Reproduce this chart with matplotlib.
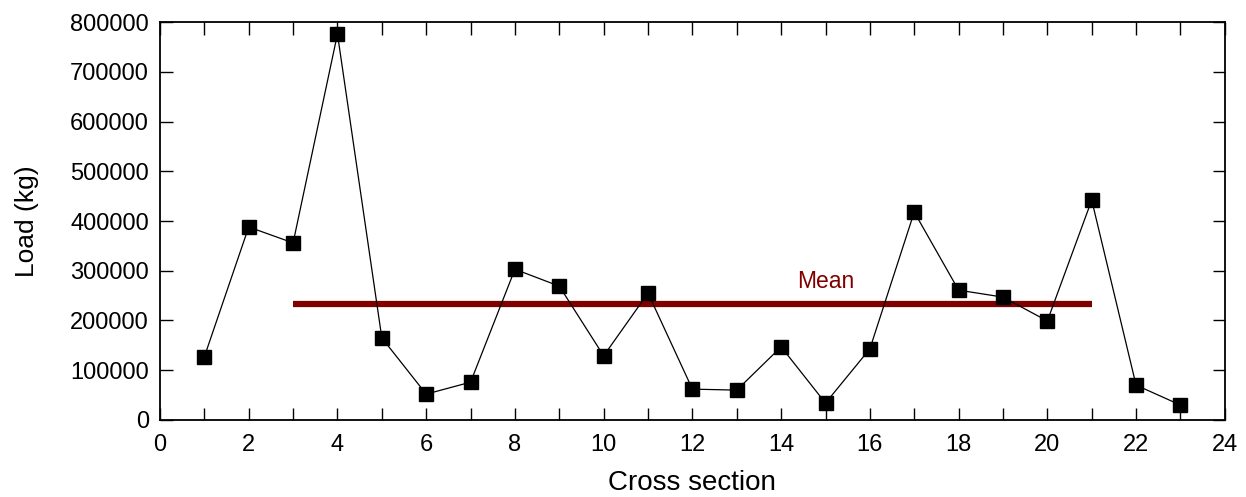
import matplotlib
matplotlib.use("Agg")
import matplotlib.pyplot as plt
from matplotlib.ticker import MultipleLocator

plt.rcParams["font.family"] = ["Liberation Sans", "DejaVu Sans"]

# data
cross_section = list(range(1, 24))
load_kg = [127000, 388000, 356000, 776000, 165000, 52000, 76000, 303000,
           269000, 129000, 255000, 62000, 60000, 147000, 34000, 143000,
           418000, 261000, 247000, 199000, 442000, 70000, 30000]

mean_x = [3, 21]
mean_value = 233000
mean_label = "Mean"
mean_label_pos = (15, 279000)

fig = plt.figure(figsize=(12.46, 4.97), dpi=100)
ax = fig.add_axes([0.1284, 0.155, 0.8546, 0.8006])

ax.plot(cross_section, load_kg, "k-", linewidth=0.9,
        marker="s", markersize=10, markerfacecolor="black", zorder=3)
ax.plot(mean_x, [mean_value, mean_value], color="#800000",
        linewidth=4.5, solid_capstyle="butt", zorder=2)
ax.text(mean_label_pos[0], mean_label_pos[1], mean_label, color="#800000",
        fontsize=16.5, ha="center", va="center")

ax.set_xlim(0, 24)
ax.set_ylim(0, 800000)
ax.xaxis.set_major_locator(MultipleLocator(2))
ax.xaxis.set_minor_locator(MultipleLocator(1))
ax.yaxis.set_major_locator(MultipleLocator(100000))

ax.tick_params(which="both", direction="in", top=True, right=True,
               length=9, width=1, labelsize=17)
ax.tick_params(axis="x", pad=10)
ax.tick_params(axis="y", pad=8)
for s in ax.spines.values():
    s.set_linewidth(1.3)

ax.set_xlabel("Cross section", fontsize=20, labelpad=10)
ax.set_ylabel("Load (kg)", fontsize=19, labelpad=22)

fig.savefig("out.png", dpi=100)
